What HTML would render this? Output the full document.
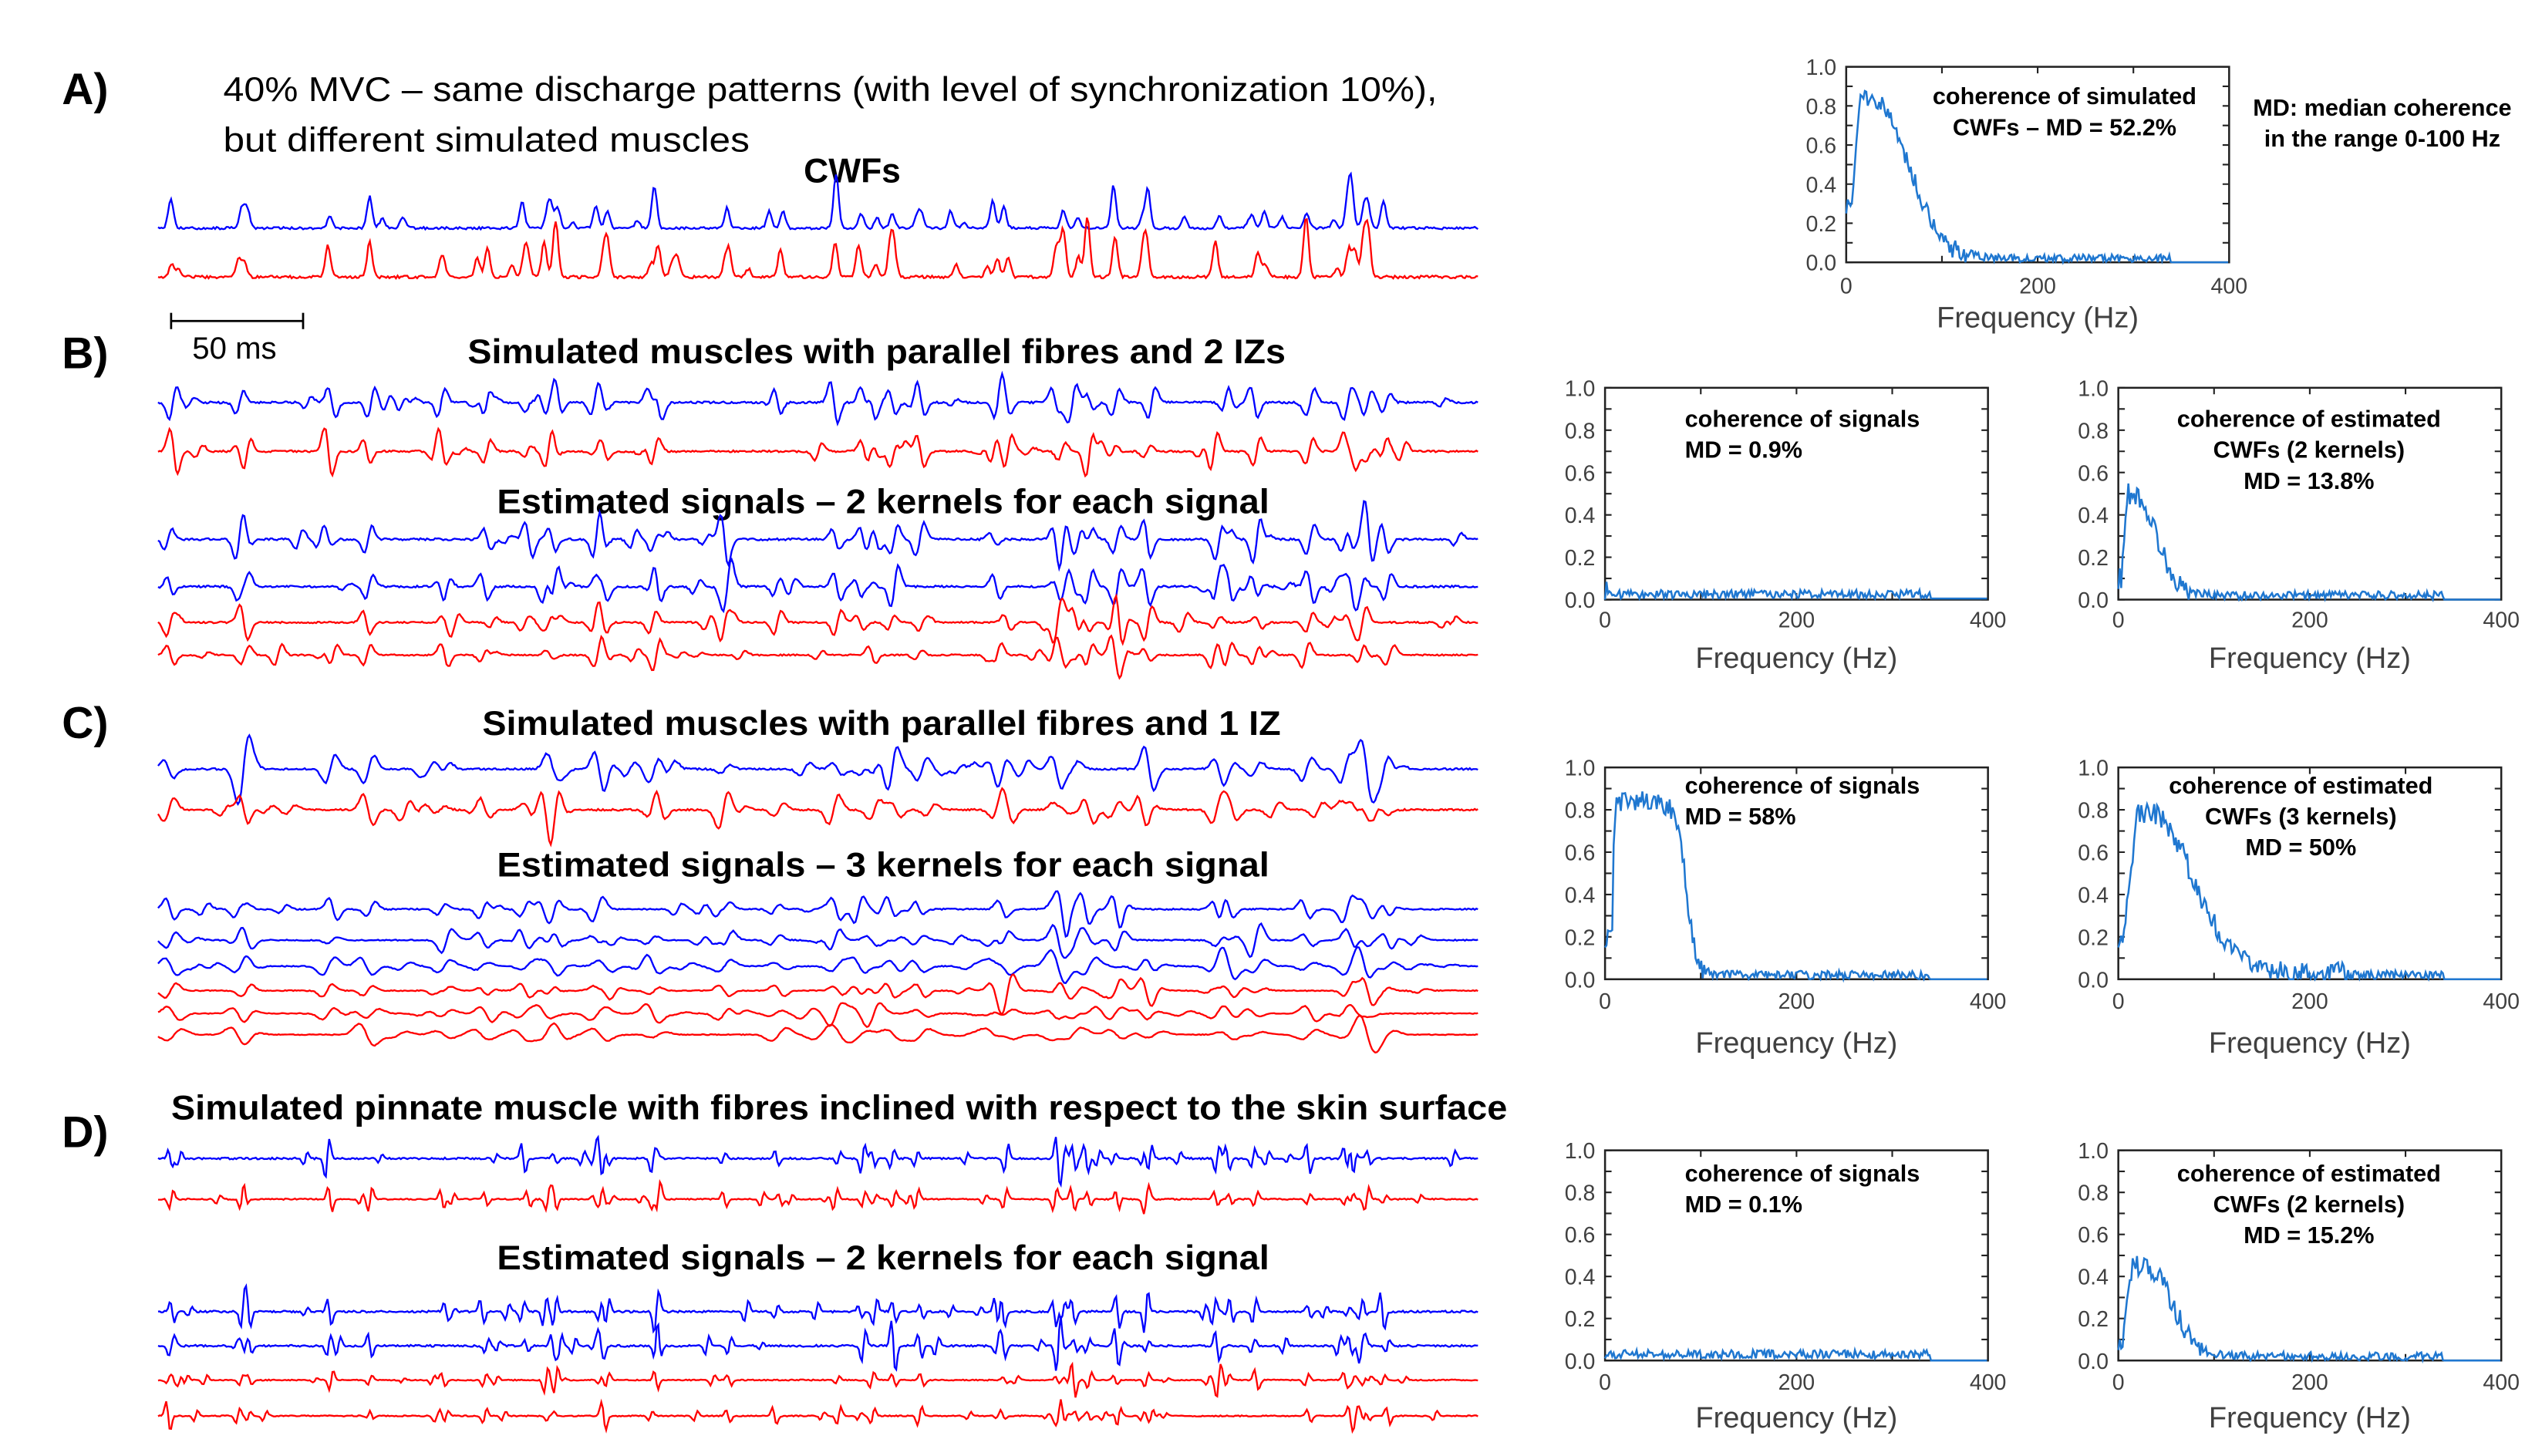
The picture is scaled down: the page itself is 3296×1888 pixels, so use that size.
<!DOCTYPE html>
<html><head><meta charset="utf-8"><style>
html,body{margin:0;padding:0;background:#fff;}
svg{display:block;}
text{font-family:"Liberation Sans",sans-serif;}
.lab{font-size:27px;font-weight:bold;}
.sub{font-size:21px;}
.ttl{font-size:21px;font-weight:bold;}
.tk{font-size:13.5px;fill:#404040;}
.fx{font-size:18px;fill:#404040;}
.in{font-size:14.5px;font-weight:bold;}
</style></head><body>
<svg id="s" width="3296" height="1888" viewBox="0 0 1560 893.6" xmlns="http://www.w3.org/2000/svg">
<rect width="1560" height="894" fill="#fff"/>
<text class="lab" x="38" y="64">A)</text>
<text class="lab" x="38" y="226">B)</text>
<text class="lab" x="38" y="453">C)</text>
<text class="lab" x="38" y="704">D)</text>
<text class="sub" x="137" y="62" textLength="745" lengthAdjust="spacingAndGlyphs">40% MVC – same discharge patterns (with level of synchronization 10%),</text>
<text class="sub" x="137" y="93" textLength="323" lengthAdjust="spacingAndGlyphs">but different  simulated muscles</text>
<text class="ttl" x="523" y="112" text-anchor="middle">CWFs</text>
<line x1="105" y1="197" x2="186" y2="197" stroke="#000" stroke-width="1.3"/>
<line x1="105" y1="192" x2="105" y2="202" stroke="#000" stroke-width="1.3"/>
<line x1="186" y1="192" x2="186" y2="202" stroke="#000" stroke-width="1.3"/>
<text x="118" y="220" style="font-size:19px">50 ms</text>
<text class="ttl" x="287" y="223" textLength="502" lengthAdjust="spacingAndGlyphs">Simulated muscles with parallel fibres and 2 IZs</text>
<text class="ttl" x="305" y="315" textLength="474" lengthAdjust="spacingAndGlyphs">Estimated signals – 2 kernels for each signal</text>
<text class="ttl" x="296" y="451" textLength="490" lengthAdjust="spacingAndGlyphs">Simulated muscles with parallel fibres and 1 IZ</text>
<text class="ttl" x="305" y="538" textLength="474" lengthAdjust="spacingAndGlyphs">Estimated signals – 3 kernels for each signal</text>
<text class="ttl" x="105" y="687" textLength="820" lengthAdjust="spacingAndGlyphs">Simulated pinnate muscle with fibres inclined with respect to the skin surface</text>
<text class="ttl" x="305" y="779" textLength="474" lengthAdjust="spacingAndGlyphs">Estimated signals – 2 kernels for each signal</text>
<g id="tr"></g>
<g id="pl"></g>
<text class="in" x="1267" y="64" text-anchor="middle">coherence of simulated</text>
<text class="in" x="1267" y="83" text-anchor="middle">CWFs – MD = 52.2%</text>
<text class="in" x="1462" y="71" text-anchor="middle">MD: median coherence</text>
<text class="in" x="1462" y="90" text-anchor="middle">in the range 0-100 Hz</text>
<text class="in" x="1034" y="262">coherence of signals</text>
<text class="in" x="1034" y="281">MD = 0.9%</text>
<text class="in" x="1417" y="262" text-anchor="middle">coherence of estimated</text>
<text class="in" x="1417" y="281" text-anchor="middle">CWFs (2 kernels)</text>
<text class="in" x="1417" y="300" text-anchor="middle">MD = 13.8%</text>
<text class="in" x="1034" y="487">coherence of signals</text>
<text class="in" x="1034" y="506">MD = 58%</text>
<text class="in" x="1412" y="487" text-anchor="middle">coherence of estimated</text>
<text class="in" x="1412" y="506" text-anchor="middle">CWFs (3 kernels)</text>
<text class="in" x="1412" y="525" text-anchor="middle">MD = 50%</text>
<text class="in" x="1034" y="725">coherence of signals</text>
<text class="in" x="1034" y="744">MD = 0.1%</text>
<text class="in" x="1417" y="725" text-anchor="middle">coherence of estimated</text>
<text class="in" x="1417" y="744" text-anchor="middle">CWFs (2 kernels)</text>
<text class="in" x="1417" y="763" text-anchor="middle">MD = 15.2%</text>
</svg>
<script>
var NS="http://www.w3.org/2000/svg";
var seed=1;function rnd(){seed=(seed*16807)%2147483647;return seed/2147483647;}
function path(g,d,c,w){var p=document.createElementNS(NS,"path");p.setAttribute("d",d);p.setAttribute("fill","none");p.setAttribute("stroke",c);p.setAttribute("stroke-width",w||1.1);g.appendChild(p);}
var tr=document.getElementById("tr");
seed=7;var spikes=[];for(var i=0;i<44;i++)spikes.push(105+rnd()*795);
function trace(y,c,amp,mono,sd,w){seed=sd;var loc=[];spikes.forEach(function(s){if(rnd()<0.8)loc.push([s+(rnd()-0.5)*4,(0.4+rnd()*0.9)*amp*(rnd()<0.12?1.8:1)*(rnd()<0.5?1:-1)]);});
 for(var k=0;k<16;k++)loc.push([100+rnd()*800,(0.2+rnd()*0.5)*amp]);
 var d="";for(var x=97;x<=907;x+=1){var v=(rnd()-0.5)*amp*0.1;
  loc.forEach(function(s){var t=(x-s[0])/(w||3);if(Math.abs(t)<5){v+=mono?-Math.abs(s[1])*Math.exp(-t*t):-s[1]*t*Math.exp(-t*t/1.2)*1.4;}});
  d+=(x==97?"M":"L")+x+" "+(y+v).toFixed(2);}
 path(tr,d,c);}
var B="#0000ff",R="#ff0000";
trace(140,B,15,true,11,2.2);trace(170,R,17,true,12,2.2);
trace(247,B,13,false,21);trace(277,R,12,false,22);
trace(331,B,13,false,23);trace(360,B,12,false,24);trace(382,R,10,false,25);trace(402,R,9,false,26);
trace(472,B,11,false,31,4);trace(497,R,11,false,32,4);
trace(558,B,8,false,33,3.5);trace(577,B,7,false,34,4);trace(593,B,6,false,35,5);
trace(608,R,6,false,36,4);trace(622,R,5,false,37,5);trace(635,R,5,false,38,6);
trace(711,B,11,false,41,1.6);trace(736,R,8,false,42,1.6);
trace(805,B,12,false,43,1.6);trace(826,B,12,false,44,1.6);trace(847,R,7,false,45,1.6);trace(869,R,7,false,46,1.6);
var pl=document.getElementById("pl");
function txt(x,y,s,cl,a){var t=document.createElementNS(NS,"text");t.setAttribute("x",x);t.setAttribute("y",y);t.setAttribute("class",cl);if(a)t.setAttribute("text-anchor",a);t.textContent=s;pl.appendChild(t);}
function plot(x0,y0,w,h,xl,fy,curve,sd){
 var r=document.createElementNS(NS,"rect");r.setAttribute("x",x0);r.setAttribute("y",y0);r.setAttribute("width",w);r.setAttribute("height",h);r.setAttribute("fill","none");r.setAttribute("stroke","#222");r.setAttribute("stroke-width","1.2");pl.appendChild(r);
 var d="";for(var i=0;i<=10;i++){var yy=y0+h*i/10;d+="M"+x0+" "+yy+"h4M"+(x0+w)+" "+yy+"h-4";}
 for(var j=1;j<4;j++){var xx=x0+w*j/4;d+="M"+xx+" "+y0+"v4M"+xx+" "+(y0+h)+"v-4";}
 path(pl,d,"#222",1);
 ["1.0","0.8","0.6","0.4","0.2","0.0"].forEach(function(s,i){txt(x0-6,y0+h*i/5+5,s,"tk","end");});
 txt(x0,xl,"0","tk","middle");txt(x0+w/2,xl,"200","tk","middle");txt(x0+w,xl,"400","tk","middle");
 txt(x0+w/2,fy,"Frequency (Hz)","fx","middle");
 seed=sd;var dd="";for(var f=0;f<=400;f+=1.5){var v=curve(f);v+= (v>0.03?(rnd()-0.5)*0.1:rnd()*0.04*(f<340?1:0));if(v<0)v=0;
  dd+=(f==0?"M":"L")+(x0+w*f/400).toFixed(2)+" "+(y0+h-h*v).toFixed(2);}
 path(pl,dd,"#1f77d0",1.2);}
function bump(pk,c,wid,f){var a=Math.min(1,f/12);var t=(f-c)/wid;return pk*a/(1+Math.exp(t*4));}
plot(1133,41,235,120,180,201,function(f){return f<6?0.3:0.85*Math.min(1,f/15)*Math.exp(-Math.pow(Math.max(0,f-25)/55,2))},51);
plot(985,238,235,130,385,410,function(f){return f<4?0.05:0.005},52);
plot(1300,238,235,130,385,410,function(f){return f<4?0.1:0.5*Math.min(1,f/10)*Math.exp(-Math.pow(Math.max(0,f-15)/35,2))},53);
plot(985,471,235,130,619,646,function(f){return f<8?0.2:bump(0.84,85,22,f)},54);
plot(1300,471,235,130,619,646,function(f){return f<6?0.2:0.75*Math.min(1,f/20)*Math.exp(-Math.pow(Math.max(0,f-35)/60,2))+0.03*(f<250)},55);
plot(985,706,235,129,853,876,function(f){return f<340?0.01:0},56);
plot(1300,706,235,129,853,876,function(f){return f<6?0.1:0.45*Math.min(1,f/15)*Math.exp(-Math.pow(Math.max(0,f-28)/40,2))},57);
</script>
</body></html>
